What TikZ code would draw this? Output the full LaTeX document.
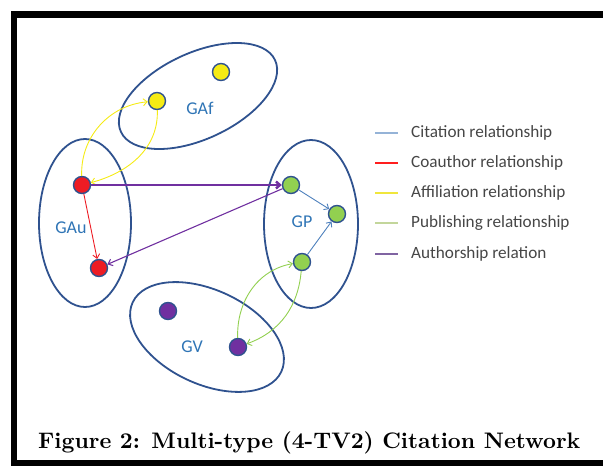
\documentclass[tikz,border=0pt]{standalone}
\usepackage{fontspec}
\usepackage{graphicx}
\setsansfont{Carlito}
\usetikzlibrary{arrows.meta}
\definecolor{rim}{RGB}{47,82,143}
\definecolor{grouplab}{RGB}{46,116,181}
\definecolor{legtext}{RGB}{70,70,70}
\definecolor{cyel}{RGB}{245,235,20}
\definecolor{cred}{RGB}{237,28,36}
\definecolor{cgrn}{RGB}{146,208,80}
\definecolor{cpur}{RGB}{112,48,160}
\definecolor{cblu}{RGB}{79,129,189}
\definecolor{lblu}{RGB}{149,179,215}
\definecolor{lred}{RGB}{255,30,30}
\definecolor{lyel}{RGB}{240,230,60}
\definecolor{lgrn}{RGB}{195,214,155}
\definecolor{lpur}{RGB}{128,100,162}
\begin{document}
\begin{tikzpicture}[x=1pt,y=-1pt,
  group/.style={draw=rim,line width=1.8pt},
  vert/.style={circle,draw=rim,line width=1.4pt,minimum size=17pt,inner sep=0pt},
  glabel/.style={font=\sffamily\fontsize{18}{18}\selectfont,text=grouplab},
  tip/.style={-{Straight Barb[length=4pt,width=7pt]}},
  legline/.style={line width=1.4pt},
  legtxt/.style={anchor=west,font=\sffamily\fontsize{17.2}{17.2}\selectfont,text=legtext,inner sep=0pt}]
\useasboundingbox (0,0) rectangle (603,466);
% frame
\draw[line width=6.5pt] (603,14.5) -- (14,14.5) -- (14,463.5) -- (603,463.5);

% groups
\draw[group,rotate around={25:(198,96)}] (198,96) ellipse [x radius=85,y radius=43];
\draw[group] (85,223) ellipse [x radius=46,y radius=84];
\draw[group] (311,224) ellipse [x radius=47,y radius=84];
\draw[group,rotate around={-25:(207,337)}] (207,337) ellipse [x radius=82,y radius=47];

\node[glabel] (lAf) at (200,108) {GAf};
\node[glabel] (lAu) at (71,228) {GAu};
\node[glabel] (lP) at (302,222) {GP};
\node[glabel] (lV) at (192,347) {GV};

% vertices
\node[vert,fill=cyel] (y1) at (157,101) {};
\node[vert,fill=cyel] (y2) at (221,72) {};
\node[vert,fill=cred] (r1) at (82,185) {};
\node[vert,fill=cred] (r2) at (99,268) {};
\node[vert,fill=cgrn] (g1) at (291,185) {};
\node[vert,fill=cgrn] (g2) at (337,214) {};
\node[vert,fill=cgrn] (g3) at (302,262) {};
\node[vert,fill=cpur] (p1) at (168,311) {};
\node[vert,fill=cpur] (p2) at (238,347) {};

% relations
\draw[tip,cyel,line width=0.9pt] (r1) to[out=92,in=185] (y1);
\draw[tip,cyel,line width=0.9pt] (y1) to[out=-88,in=15] (r1);
\draw[tip,cred,line width=0.9pt] (r1) -- (r2);
\draw[tip,cpur,line width=2.4pt] (r1) -- (g1);
\draw[tip,cpur,line width=1.1pt] (g1) -- (r2);
\draw[tip,cblu,line width=0.9pt] (g1) -- (g2);
\draw[tip,cblu,line width=0.9pt] (g3) -- (g2);
\draw[tip,cgrn,line width=0.9pt] (p2) to[out=92,in=190] (g3);
\draw[tip,cgrn,line width=0.9pt] (g3) to[out=-95,in=20] (p2);

% legend
\coordinate (k1) at (375,133); \coordinate (k1e) at (398,133);
\coordinate (k2) at (375,163); \coordinate (k2e) at (398,163);
\coordinate (k3) at (375,193); \coordinate (k3e) at (398,193);
\coordinate (k4) at (375,223); \coordinate (k4e) at (398,223);
\coordinate (k5) at (375,254); \coordinate (k5e) at (398,254);
\draw[legline,lblu] (k1) -- (k1e);
\draw[legline,lred] (k2) -- (k2e);
\draw[legline,lyel] (k3) -- (k3e);
\draw[legline,lgrn] (k4) -- (k4e);
\draw[legline,lpur] (k5) -- (k5e);
\node[legtxt] (t1) at (411,133) {Citation relationship};
\node[legtxt] (t2) at (411,163) {Coauthor relationship};
\node[legtxt] (t3) at (411,193) {Affiliation relationship};
\node[legtxt] (t4) at (411,223) {Publishing relationship};
\node[legtxt] (t5) at (411,254) {Authorship relation};

% caption
\node[anchor=base west,inner sep=0pt] (cap) at (38,448)
  {\resizebox{542pt}{!}{\bfseries Figure 2: Multi-type (4-TV2) Citation Network}};
\end{tikzpicture}
\end{document}
